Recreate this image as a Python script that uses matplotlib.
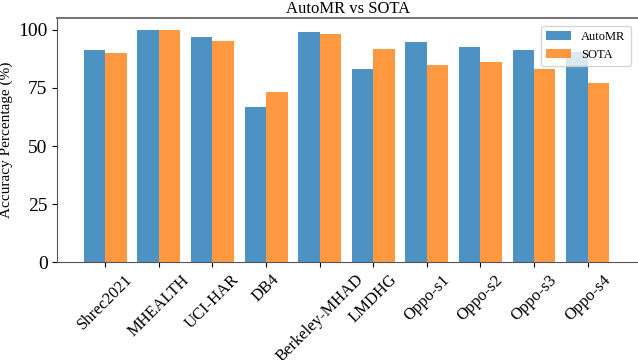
import matplotlib
matplotlib.use('Agg')
import matplotlib.pyplot as plt
import numpy as np

# Data
datasets = ['Shrec2021', 'MHEALTH', 'UCI-HAR', 'DB4', 'Berkeley-MHAD', 'LMDHG',
            'Oppo-s1', 'Oppo-s2', 'Oppo-s3', 'Oppo-s4']
automr = [91.5, 99.9, 97.0, 66.8, 99.0, 83.3, 94.7, 92.5, 91.3, 90.6]
sota = [90.0, 100.0, 95.3, 73.1, 98.1, 91.8, 84.9, 86.1, 83.0, 77.0]
yticks = [0, 25, 50, 75, 100]

plt.rcParams['font.family'] = ['Liberation Serif', 'DejaVu Serif']

fig = plt.figure(figsize=(6.38, 3.6), dpi=100)
ax = fig.add_axes([0.0898, 0.272, 0.9102, 0.677])

x = np.arange(len(datasets))
w = 0.4
ax.bar(x - w/2, automr, w, color='tab:blue', alpha=0.8, label='AutoMR')
ax.bar(x + w/2, sota, w, color='tab:orange', alpha=0.8, label='SOTA')

ax.set_xlim(-0.896, 9.94)
ax.set_ylim(0, 105)
ax.set_yticks(yticks)
ax.set_xticks(x)
ax.set_xticklabels(datasets, rotation=45, fontsize=12)
ax.tick_params(axis='y', labelsize=14)
ax.set_ylabel('Accuracy Percentage (%)', fontsize=11, labelpad=4)
ax.set_title('AutoMR vs SOTA', fontsize=12, pad=4)

for s in ['left', 'bottom']:
    ax.spines[s].set_color('#555555')
ax.spines['top'].set_color('#777777')
ax.spines['top'].set_linewidth(1.5)
ax.spines['right'].set_visible(False)

ax.legend(loc='upper right', fontsize=9, bbox_to_anchor=(0.998, 0.995))

fig.savefig('out.png', dpi=100)
